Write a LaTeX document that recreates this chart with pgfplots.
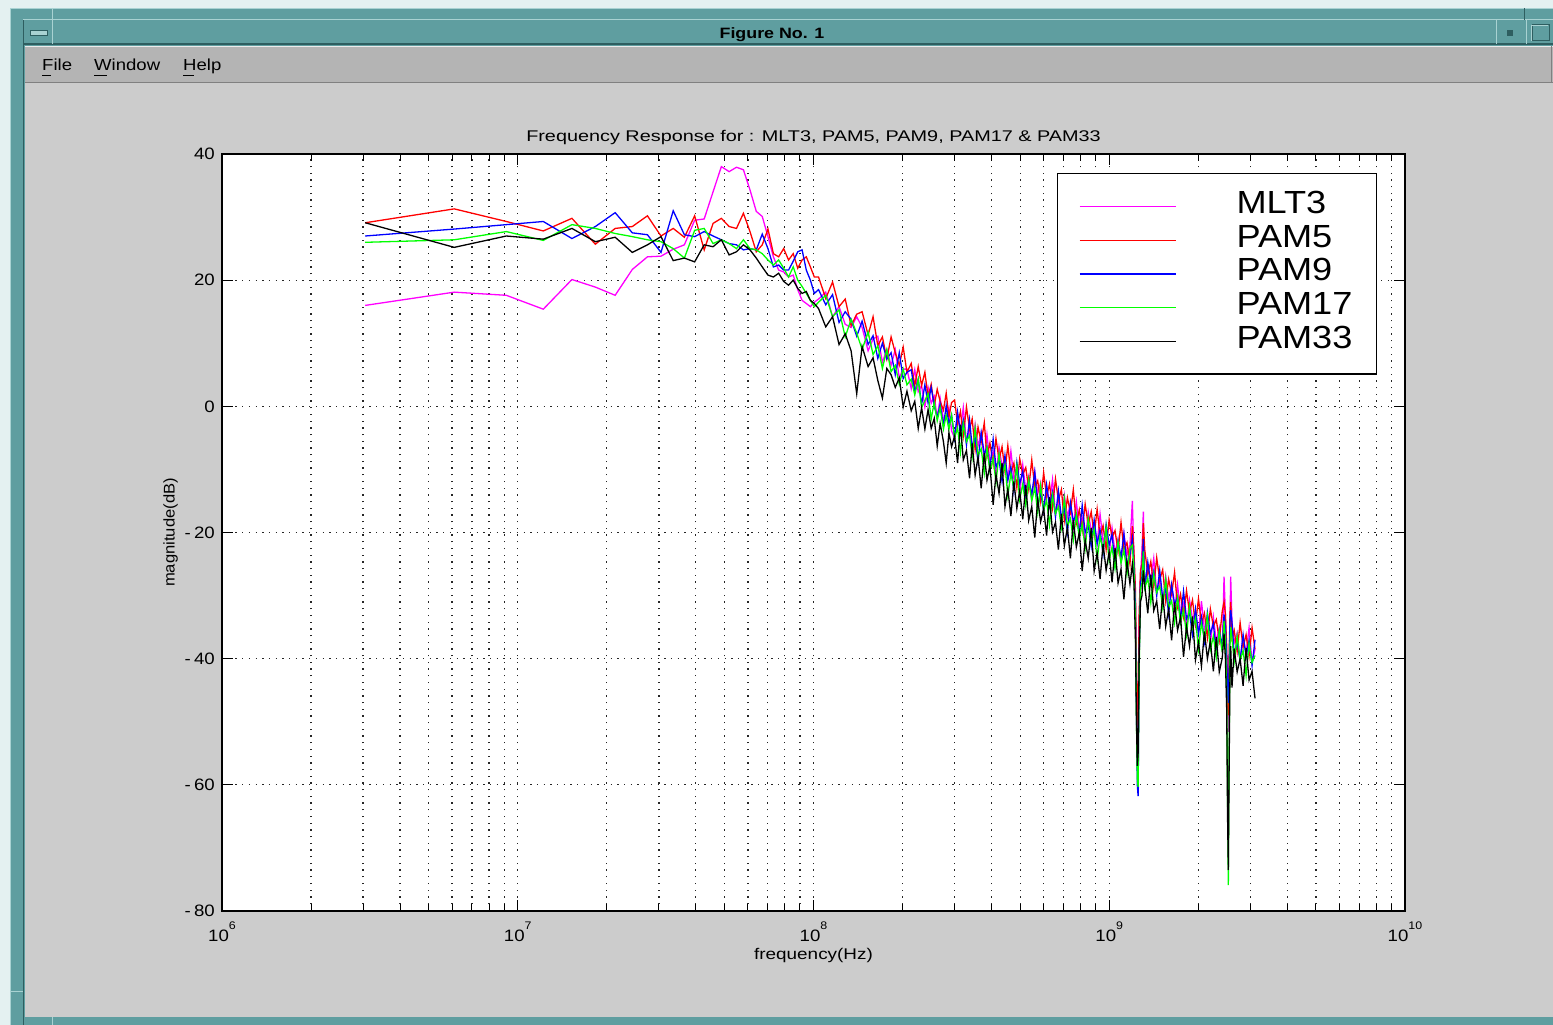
\documentclass[border=0pt]{standalone}
\usepackage{pgfplots}
\pgfplotsset{compat=1.18}
\usepackage{fontspec}
\setmainfont{Liberation Sans}
\definecolor{winL}{HTML}{E4F1F1}
\definecolor{teal1}{HTML}{5F9EA0}
\definecolor{tealL}{HTML}{A9D2D2}
\definecolor{tealD}{HTML}{2E5E60}
\definecolor{menuG}{HTML}{B4B4B4}
\definecolor{bgG}{HTML}{CCCCCC}
\definecolor{cM}{HTML}{FF00FF}
\definecolor{cR}{HTML}{FF0000}
\definecolor{cB}{HTML}{0000FF}
\definecolor{cG}{HTML}{00FF00}
\newcommand{\xs}[1]{\scalebox{1.13}[1]{#1}}
\newcommand{\xt}[1]{\scalebox{1.28}[1]{#1}}
\newcommand{\xl}[1]{\scalebox{1.22}[1]{#1}}
\newcommand{\xy}[1]{\scalebox{1.07}[1]{#1}}
\newcommand{\ex}[1]{\xs{10}\raisebox{12.5pt}{\fontsize{11}{11}\selectfont\xs{#1}}}
\newcommand{\lgd}[1]{\rule[-9.7pt]{0pt}{33.7pt}\makebox[140pt][l]{\xs{#1}}}
\begin{document}
\begin{tikzpicture}[x=1pt,y=1pt]
\useasboundingbox (0,0) rectangle (1553,1025);
\fill[winL] (0,0) rectangle (1553,1025);
\fill[teal1] (10,0) rectangle (1553,1017);
\draw[tealL, line width=1.2pt] (10,1016.5) -- (1553,1016.5);
\draw[tealL, line width=1.2pt] (10.5,0) -- (10.5,1017);
\draw[tealL, line width=1pt] (23,1005) -- (1553,1005);
\draw[tealD, line width=1.5pt] (23,981) -- (1553,981);
\draw[tealD, line width=1.2pt] (23.5,0) -- (23.5,1005);
\draw[tealL, line width=1pt] (52,1017) -- (52,981);
\draw[tealD, line width=1pt] (1524,1017) -- (1524,1005);
\draw[tealL, line width=1pt] (1496,1005) -- (1496,981);
\draw[tealL, line width=1pt] (1526,1005) -- (1526,981);
\draw[tealL, line width=1pt] (10,33) -- (23,33);
\draw[tealL, line width=1pt] (52,0) -- (52,8);
\fill[tealL] (30,990) rectangle (47,995);
\draw[tealD, line width=0.8pt] (30,990) rectangle (47,995);
\fill[tealD] (1507,989) rectangle (1513,995);
\draw[tealD, line width=1pt] (1532,984.5) rectangle (1549,1000);
\draw[tealL, line width=0.8pt] (1531,984) -- (1531,1000) -- (1548,1000);
\node[anchor=base, font=\bfseries\fontsize{15}{15}\selectfont] at (772,986) {\scalebox{1.19}[1]{Figure No. 1}};
% menu bar
\fill[menuG] (25,942) rectangle (1553,979);
\draw[white!75!menuG, line width=1pt] (25,978.5) -- (1553,978.5);
\draw[black!50, line width=1.2pt] (25,942.6) -- (1553,942.6);
\draw[black!50, line width=1.2pt] (1551.5,942) -- (1551.5,979);
\node[anchor=base west, inner sep=0pt, font=\fontsize{16}{16}\selectfont] at (42,954.3) {\scalebox{1.16}[1]{File}};
\node[anchor=base west, inner sep=0pt, font=\fontsize{16}{16}\selectfont] at (94,954.3) {\scalebox{1.16}[1]{Window}};
\node[anchor=base west, inner sep=0pt, font=\fontsize{16}{16}\selectfont] at (183,954.3) {\scalebox{1.16}[1]{Help}};
\draw[black, line width=1.2pt] (42,949.5) -- (51,949.5);
\draw[black, line width=1.2pt] (94,949.5) -- (107,949.5);
\draw[black, line width=1.2pt] (183,949.5) -- (194,949.5);
% content
\fill[bgG] (25,8) rectangle (1553,941.5);
\begin{axis}[
  at={(222pt,114pt)}, anchor=south west,
  scale only axis, width=1183pt, height=757pt,
  xmode=log, log basis x=10,
  xmin=1, xmax=10000, ymin=-80, ymax=40,
  xtick={1,10,100,1000,10000},
  minor xtick={2,3,4,5,6,7,8,9,20,30,40,50,60,70,80,90,200,300,400,500,600,700,800,900,2000,3000,4000,5000,6000,7000,8000,9000},
  xticklabels={\ex{6},\ex{7},\ex{8},\ex{9},\ex{10}},
  ytick={-80,-60,-40,-20,0,20,40},
  yticklabels={\xs{-\,80},\xs{-\,60},\xs{-\,40},\xs{-\,20},\xs{0},\xs{20},\xs{40}},
  xtick pos=both, ytick pos=both, tick align=inside,
  major tick length=11pt, minor tick length=7pt,
  every tick/.style={black, line width=1pt},
  axis line style={black, line width=1.3pt},
  axis background/.style={fill=white},
  grid=both,
  major grid style={black!85, line width=1.3pt, dash pattern=on 1.3pt off 5.4pt},
  minor grid style={black!85, line width=1.3pt, dash pattern=on 1.3pt off 5.4pt},
  tick label style={font=\fontsize{16.5}{16.5}\selectfont},
  xticklabel style={anchor=base, yshift=-30.7pt},
  yticklabel style={anchor=east, inner sep=0pt, xshift=-7pt},
  title={\xt{Frequency Response for : MLT3, PAM5, PAM9, PAM17 \& PAM33}},
  title style={at={(axis description cs:0.5,1.0081)}, anchor=base, yshift=0pt, font=\fontsize{15.5}{15.5}\selectfont},
  xlabel={\xl{frequency(Hz)}},
  xlabel style={at={(axis description cs:0.5,-0.0647)}, anchor=base, font=\fontsize{15.5}{15.5}\selectfont},
  ylabel={\xy{magnitude(dB)}},
  ylabel style={at={(axis description cs:-0.04015,0.5)}, rotate=0, anchor=base, font=\fontsize{15.5}{15.5}\selectfont},
  legend style={
    at={(axis description cs:0.7058,0.9749)}, anchor=north west,
    draw=black, line width=1.2pt, fill=white,
    inner xsep=0pt, inner ysep=16pt,
    font=\fontsize{32}{32}\selectfont,
    row sep=0pt,
    nodes={inner sep=0pt},
    cells={anchor=base west},
  },
  legend image code/.code={\path[draw=none,fill=none] (0pt,-9.7pt) rectangle (179pt,24pt); \draw[#1, line width=1.5pt] (22pt,7pt) -- (118pt,7pt);},
]
% MLT3
\addplot[cM, line width=1.3pt] coordinates {
(3.05,16.0)(6.1,18.1)(9.15,17.6)(12.2,15.4)(15.25,20.1)(18.3,18.9)(21.35,17.6)(24.4,21.7)(27.45,23.7)(30.5,23.8)(33.55,24.9)(36.6,25.6)(39.65,29.5)(42.7,29.7)(45.75,34.0)(48.8,38.0)(51.85,37.2)(54.9,37.9)(57.95,37.5)(61,34.3)(64.05,30.9)(67.1,30.1)(70.15,26.9)(73.2,23.7)(76.25,21.6)(79.3,21.3)(82.35,20.5)(85.4,20.8)(88.45,18.5)(91.5,16.8)(94.55,16.3)(97.6,15.8)(100.65,16.5)
(104,17)(110,18.1)(116,14.2)(122,15.8)(128,13.0)(134,12.5)(140,14.2)(146,12.5)(153,8.8)(159,10.7)(165,11.1)(171,7.0)(177,9.0)(183,6.5)(189,9.0)(195,4.5)(201,5.9)(207,5.9)(214,2.8)(220,5.8)(226,2.3)(232,3.3)(238,-0.1)(244,3.0)(250,0.5)(256,1.6)(262,-1.8)(268,1.3)(275,-2.1)(281,-1.4)(287,-0.2)(293,-3.9)
(300,-5.0)(307,-1.4)(314,-3.8)(321,-0.2)(329,-5.6)(337,-3.6)(344,-7.0)(352,-2.9)(360,-6.3)(369,-4.2)(378,-8.6)(386,-4.5)(395,-8.8)(405,-7.2)(414,-11.1)(424,-6.5)(434,-9.4)(444,-8.3)(454,-11.7)(465,-7.1)(476,-11.5)(487,-10.4)(498,-13.8)(510,-9.3)(522,-13.2)(534,-11.1)(547,-15.0)(560,-10.4)(573,-13.8)(586,-12.1)(600,-16.5)(614,-12.9)(628,-15.3)(643,-11.6)(658,-17.0)(673,-14.9)(689,-18.2)(705,-14.1)(722,-17.5)(739,-15.3)(756,-19.2)(774,-15.1)(792,-19.4)(810,-17.7)(829,-21.5)(849,-16.8)(869,-19.7)(889,-18.5)(910,-21.8)(931,-17.1)(953,-21.4)(976,-20.2)(999,-23.5)(1022,-19.3)(1046,-23.2)(1071,-21.0)(1096,-24.9)(1121,-20.2)(1148,-23.6)(1175,-22.0)
(1197,-15)(1212,-24)(1226,-31)(1236,-45)(1244,-55)(1252,-50)(1262,-35)(1275,-27)(1290,-23)(1304,-16.7)
(1319,-28.8)(1350,-25.2)(1382,-27.6)(1414,-24.1)(1447,-29.5)(1481,-27.5)(1516,-30.9)(1552,-26.9)(1588,-30.4)(1625,-28.3)(1663,-32.3)(1702,-28.3)(1742,-32.8)(1783,-31.3)(1825,-35.2)(1868,-30.7)(1912,-33.7)(1957,-32.6)(2003,-36.0)(2050,-30.9)(2098,-35.3)(2147,-34.2)(2197,-37.6)(2249,-33.4)(2301,-37.3)(2355,-35.1)(2410,-39.0)
(2444,-27)(2470,-33)(2495,-40)(2512,-48)(2527,-51.6)(2542,-42)(2560,-34)(2574,-27)
(2600,-34.2)(2645,-37.5)(2707,-35.9)(2770,-40.3)(2835,-36.7)(2902,-39.2)(2970,-35.1)(3040,-40.6)(3111,-38.5)
};
\addlegendentry{\lgd{MLT3}}
% PAM5
\addplot[cR, line width=1.3pt] coordinates {
(3.05,29.1)(6.1,31.3)(9.15,29.3)(12.2,27.8)(15.25,29.8)(18.3,25.7)(21.35,28.2)(24.4,28.5)(27.45,30.2)(30.5,27.0)(33.55,28.2)(36.6,26.8)(39.65,30.2)(42.7,24.8)(45.75,29.0)(48.8,29.8)(51.85,28.5)(54.9,28.2)(57.95,30.6)(61,27.7)(64.05,24.5)(67.1,25.6)(70.15,28.1)(73.2,24.2)(76.25,23.7)(79.3,25.0)(82.35,23.2)(85.4,24.2)(88.45,21.9)(91.5,23.2)(94.55,23.7)(97.6,22.1)(100.65,20.5)
(104,20.5)(110,17.1)(116,19.7)(122,15.8)(128,17.0)(134,12.8)(140,14.6)(146,15.0)(153,11.3)(159,14.2)(165,9.6)(171,11.0)(177,7.5)(183,11.0)(189,8.5)(195,6.5)(201,9.4)(207,5.4)(214,6.8)(220,3.3)(226,6.3)(232,3.3)(238,5.4)(244,1.5)(250,3.5)(256,0.1)(262,2.7)(268,0.8)(275,-0.6)(281,2.1)(287,-1.7)(293,0.6)
(300,1.0)(307,-2.9)(314,-0.8)(321,-4.7)(329,-0.1)(337,-3.6)(344,-2.0)(352,-6.9)(360,-3.3)(369,-5.7)(378,-2.6)(386,-8.0)(395,-5.8)(405,-9.2)(414,-5.1)(424,-8.5)(434,-6.4)(444,-10.3)(454,-6.2)(465,-10.6)(476,-9.0)(487,-12.9)(498,-8.3)(510,-10.8)(522,-9.7)(534,-13.1)(547,-8.5)(560,-12.9)(573,-11.8)(586,-15.1)(600,-10.5)(614,-14.4)(628,-12.3)(643,-16.1)(658,-11.5)(673,-14.9)(689,-13.2)(705,-18.1)(722,-14.5)(739,-16.8)(756,-13.2)(774,-18.6)(792,-16.4)(810,-19.7)(829,-15.5)(849,-18.8)(869,-16.7)(889,-20.5)(910,-16.3)(931,-20.6)(953,-18.9)(976,-22.7)(999,-18.0)(1022,-20.8)(1046,-19.7)(1071,-23.0)(1096,-18.4)(1121,-22.7)(1148,-21.6)(1175,-25.0)
(1197,-19)(1212,-23)(1226,-29)(1236,-42)(1244,-52)(1252,-48)(1262,-33)(1275,-26)(1290,-25)(1304,-18.5)
(1319,-22.8)(1350,-26.7)(1382,-24.6)(1414,-28.6)(1447,-24.0)(1481,-27.5)(1516,-25.9)(1552,-30.9)(1588,-27.4)(1625,-29.8)(1663,-26.3)(1702,-31.8)(1742,-29.8)(1783,-33.3)(1825,-29.2)(1868,-32.7)(1912,-30.7)(1957,-34.6)(2003,-30.5)(2050,-34.4)(2098,-32.8)(2147,-36.7)(2197,-32.1)(2249,-34.9)(2301,-33.8)(2355,-37.1)(2410,-32.5)
(2444,-31)(2470,-33)(2495,-38)(2512,-46)(2527,-49)(2542,-40)(2560,-33)(2574,-31)
(2600,-36.7)(2645,-35.5)(2707,-38.9)(2770,-34.3)(2835,-38.2)(2902,-36.2)(2970,-39.6)(3040,-35.1)(3111,-38.5)
};
\addlegendentry{\lgd{PAM5}}
% PAM9
\addplot[cB, line width=1.3pt] coordinates {
(3.05,27.0)(6.1,28.1)(9.15,28.8)(12.2,29.3)(15.25,26.6)(18.3,28.5)(21.35,30.7)(24.4,27.5)(27.45,27.2)(30.5,24.4)(33.55,31.0)(36.6,27.2)(39.65,26.9)(42.7,27.7)(45.75,27.0)(48.8,26.4)(51.85,25.8)(54.9,25.6)(57.95,24.8)(61,25.0)(64.05,24.8)(67.1,27.3)(70.15,25.0)(73.2,22.1)(76.25,22.4)(79.3,21.6)(82.35,21.6)(85.4,23.0)(88.45,24.5)(91.5,24.8)(94.55,21.6)(97.6,20.0)(100.65,17.9)
(104,18.5)(110,16.1)(116,17.7)(122,13.3)(128,15.0)(134,13.8)(140,11.1)(146,13.5)(153,9.8)(159,11.2)(165,7.6)(171,10.0)(177,7.5)(183,8.5)(189,5.0)(195,8.5)(201,4.4)(207,5.4)(214,5.8)(220,2.3)(226,4.3)(232,0.3)(238,3.4)(244,0.5)(250,3.0)(256,0.1)(262,-1.8)(268,0.3)(275,-3.1)(281,0.1)(287,-2.7)(293,-1.4)
(300,-5.0)(307,-0.9)(314,-4.3)(321,-2.2)(329,-6.1)(337,-2.1)(344,-6.5)(352,-4.9)(360,-8.8)(369,-4.2)(378,-7.6)(386,-6.5)(395,-9.8)(405,-5.2)(414,-9.6)(424,-8.5)(434,-11.9)(444,-7.8)(454,-11.7)(465,-9.6)(476,-13.5)(487,-8.9)(498,-12.3)(510,-10.3)(522,-15.2)(534,-11.6)(547,-14.0)(560,-10.4)(573,-15.8)(586,-13.6)(600,-16.5)(614,-12.4)(628,-15.8)(643,-13.6)(658,-17.5)(673,-13.4)(689,-17.7)(705,-16.1)(722,-20.0)(739,-15.3)(756,-18.2)(774,-17.1)(792,-20.4)(810,-15.7)(829,-20.0)(849,-18.8)(869,-22.2)(889,-18.0)(910,-21.8)(931,-19.6)(953,-23.4)(976,-18.7)(999,-22.0)(1022,-20.3)(1046,-25.2)(1071,-21.5)(1096,-23.9)(1121,-20.2)(1148,-25.6)(1175,-23.5)
(1197,-21)(1212,-25)(1226,-32)(1236,-48)(1244,-60)(1252,-61.8)(1262,-40)(1275,-28)(1290,-27)(1304,-21)
(1319,-28.8)(1350,-24.7)(1382,-28.1)(1414,-26.1)(1447,-30.0)(1481,-26.0)(1516,-30.4)(1552,-28.9)(1588,-32.9)(1625,-28.3)(1663,-31.3)(1702,-30.3)(1742,-33.8)(1783,-29.3)(1825,-33.7)(1868,-32.7)(1912,-36.2)(1957,-32.1)(2003,-36.0)(2050,-33.4)(2098,-37.3)(2147,-32.7)(2197,-36.1)(2249,-34.4)(2301,-39.3)(2355,-35.6)(2410,-38.0)
(2444,-33)(2470,-35)(2495,-40)(2512,-45)(2527,-47)(2542,-42)(2560,-34)(2574,-32.3)
(2600,-34.2)(2645,-39.5)(2707,-37.4)(2770,-40.3)(2835,-36.2)(2902,-39.7)(2970,-37.1)(3040,-41.1)(3111,-37.0)
};
\addlegendentry{\lgd{PAM9}}
% PAM17
\addplot[cG, line width=1.3pt] coordinates {
(3.05,26.0)(6.1,26.4)(9.15,27.7)(12.2,26.3)(15.25,28.8)(18.3,28.2)(21.35,27.4)(24.4,26.9)(27.45,26.4)(30.5,26.1)(33.55,25.0)(36.6,23.5)(39.65,27.9)(42.7,28.2)(45.75,25.8)(48.8,26.4)(51.85,25.8)(54.9,25.0)(57.95,26.4)(61,25.0)(64.05,24.8)(67.1,24.2)(70.15,23.2)(73.2,22.4)(76.25,23.2)(79.3,21.9)(82.35,20.5)(85.4,22.1)(88.45,20.0)(91.5,19.0)(94.55,17.9)(97.6,16.8)(100.65,15.8)
(104,16.5)(110,17.6)(116,14.2)(122,15.3)(128,11.0)(134,13.8)(140,11.6)(146,9.0)(153,11.8)(159,8.2)(165,9.6)(171,6.0)(177,9.0)(183,5.5)(189,6.5)(195,3.5)(201,5.9)(207,3.4)(214,4.3)(220,1.8)(226,4.3)(232,-0.2)(238,0.9)(244,2.0)(250,-2.0)(256,0.6)(262,-2.3)(268,-0.2)(275,-3.6)(281,-1.4)(287,-3.7)(293,-1.4)
(300,-5.0)(307,-3.4)(314,-7.3)(321,-2.7)(329,-5.6)(337,-4.6)(344,-8.0)(352,-3.4)(360,-7.8)(369,-6.7)(378,-10.6)(386,-6.5)(395,-10.3)(405,-8.2)(414,-12.1)(424,-7.5)(434,-10.9)(444,-9.3)(454,-14.2)(465,-10.6)(476,-13.0)(487,-9.4)(498,-14.8)(510,-12.3)(522,-15.7)(534,-11.6)(547,-15.0)(560,-12.9)(573,-16.8)(586,-12.6)(600,-16.5)(614,-14.9)(628,-18.8)(643,-14.1)(658,-17.0)(673,-15.9)(689,-19.2)(705,-14.6)(722,-19.0)(739,-17.8)(756,-21.2)(774,-17.1)(792,-20.9)(810,-18.7)(829,-22.5)(849,-17.8)(869,-21.2)(889,-19.5)(910,-24.3)(931,-20.6)(953,-22.9)(976,-19.2)(999,-24.5)(1022,-22.3)(1046,-25.7)(1071,-21.5)(1096,-24.9)(1121,-22.7)(1148,-26.6)(1175,-22.5)
(1197,-22)(1212,-26)(1226,-34)(1236,-50)(1244,-59)(1252,-60.3)(1262,-42)(1275,-29)(1290,-28)(1304,-23)
(1319,-28.8)(1350,-27.2)(1382,-31.1)(1414,-26.6)(1447,-29.5)(1481,-28.5)(1516,-31.9)(1552,-27.4)(1588,-31.9)(1625,-30.8)(1663,-34.3)(1702,-30.3)(1742,-34.3)(1783,-32.3)(1825,-36.2)(1868,-31.7)(1912,-35.2)(1957,-33.6)(2003,-38.5)(2050,-34.4)(2098,-36.8)(2147,-33.2)(2197,-38.6)(2249,-36.4)(2301,-39.8)(2355,-35.6)(2410,-39.0)
(2444,-34)(2470,-37)(2495,-45)(2512,-62)(2527,-75.9)(2542,-55)(2560,-38)(2574,-35)
(2600,-36.7)(2645,-40.5)(2707,-36.4)(2770,-40.3)(2835,-38.7)(2902,-42.7)(2970,-37.6)(3040,-40.6)(3111,-39.5)
};
\addlegendentry{\lgd{PAM17}}
% PAM33
\addplot[black, line width=1.3pt] coordinates {
(3.05,29.1)(6.1,25.2)(9.15,27.0)(12.2,26.5)(15.25,28.2)(18.3,26.1)(21.35,26.8)(24.4,24.4)(27.45,25.6)(30.5,26.9)(33.55,23.1)(36.6,23.5)(39.65,22.9)(42.7,25.6)(45.75,25.3)(48.8,26.4)(51.85,24.0)(54.9,24.5)(57.95,25.6)(61,24.8)(64.05,23.5)(67.1,22.1)(70.15,20.8)(73.2,20.5)(76.25,21.1)(79.3,19.8)(82.35,19.2)(85.4,20.0)(88.45,18.7)(91.5,17.9)(94.55,18.2)(97.6,16.8)(100.65,16.3)
(104,15.5)(110,12.6)(116,14.2)(122,9.8)(128,11.5)(134,8.8)(140,2.0)(146,9.5)(153,6.3)(159,7.7)(165,4.1)(171,1.3)(177,6.0)(183,5.0)(189,3.0)(195,4.5)(201,-0.1)(207,2.4)(214,-0.7)(220,0.8)(226,-3.5)(232,-0.2)(238,-3.6)(244,-0.5)(250,-3.5)(256,-1.9)(262,-6.3)(268,-2.7)(275,-5.6)(281,-9.0)(287,-4.2)(293,-6.4)
(300,-4.7)(307,-9.0)(314,-2.9)(321,-8.5)(329,-7.0)(337,-11.4)(344,-5.9)(352,-10.9)(360,-8.0)(369,-13.0)(378,-7.4)(386,-11.7)(395,-9.4)(405,-15.6)(414,-10.8)(424,-13.8)(434,-9.0)(444,-15.9)(454,-13.1)(465,-17.4)(476,-11.9)(487,-16.2)(498,-13.4)(510,-17.9)(522,-12.5)(534,-18.1)(547,-15.9)(560,-20.8)(573,-14.7)(586,-18.3)(600,-16.2)(614,-20.5)(628,-14.4)(643,-19.9)(658,-18.4)(673,-22.7)(689,-17.1)(705,-22.1)(722,-19.2)(739,-24.1)(756,-18.0)(774,-22.3)(792,-20.0)(810,-26.1)(829,-21.2)(849,-24.1)(869,-19.3)(889,-26.1)(910,-23.2)(931,-27.4)(953,-21.8)(976,-26.0)(999,-23.1)(1022,-27.9)(1046,-22.5)(1071,-28.0)(1096,-25.8)(1121,-30.6)(1148,-24.5)(1175,-28.2)
(1197,-25)(1212,-28)(1226,-37)(1236,-50)(1244,-57)(1252,-55)(1262,-40)(1275,-31)(1290,-30)(1304,-26)
(1319,-28.5)(1350,-32.8)(1382,-26.7)(1414,-32.4)(1447,-30.9)(1481,-35.3)(1516,-29.8)(1552,-34.9)(1588,-32.1)(1625,-37.1)(1663,-31.1)(1702,-35.5)(1742,-33.4)(1783,-39.7)(1825,-34.9)(1868,-38.0)(1912,-33.3)(1957,-40.2)(2003,-37.4)(2050,-41.2)(2098,-35.7)(2147,-40.0)(2197,-37.2)(2249,-42.0)(2301,-36.6)(2355,-42.1)(2410,-39.9)
(2444,-36)(2470,-40)(2495,-48)(2512,-65)(2527,-73.5)(2542,-58)(2560,-42)(2574,-38)
(2600,-44.6)(2645,-38.4)(2707,-42.1)(2770,-40.0)(2835,-44.3)(2902,-38.3)(2970,-43.4)(3040,-42.0)(3111,-46.3)
};
\addlegendentry{\lgd{PAM33}}
\end{axis}
\end{tikzpicture}
\end{document}
